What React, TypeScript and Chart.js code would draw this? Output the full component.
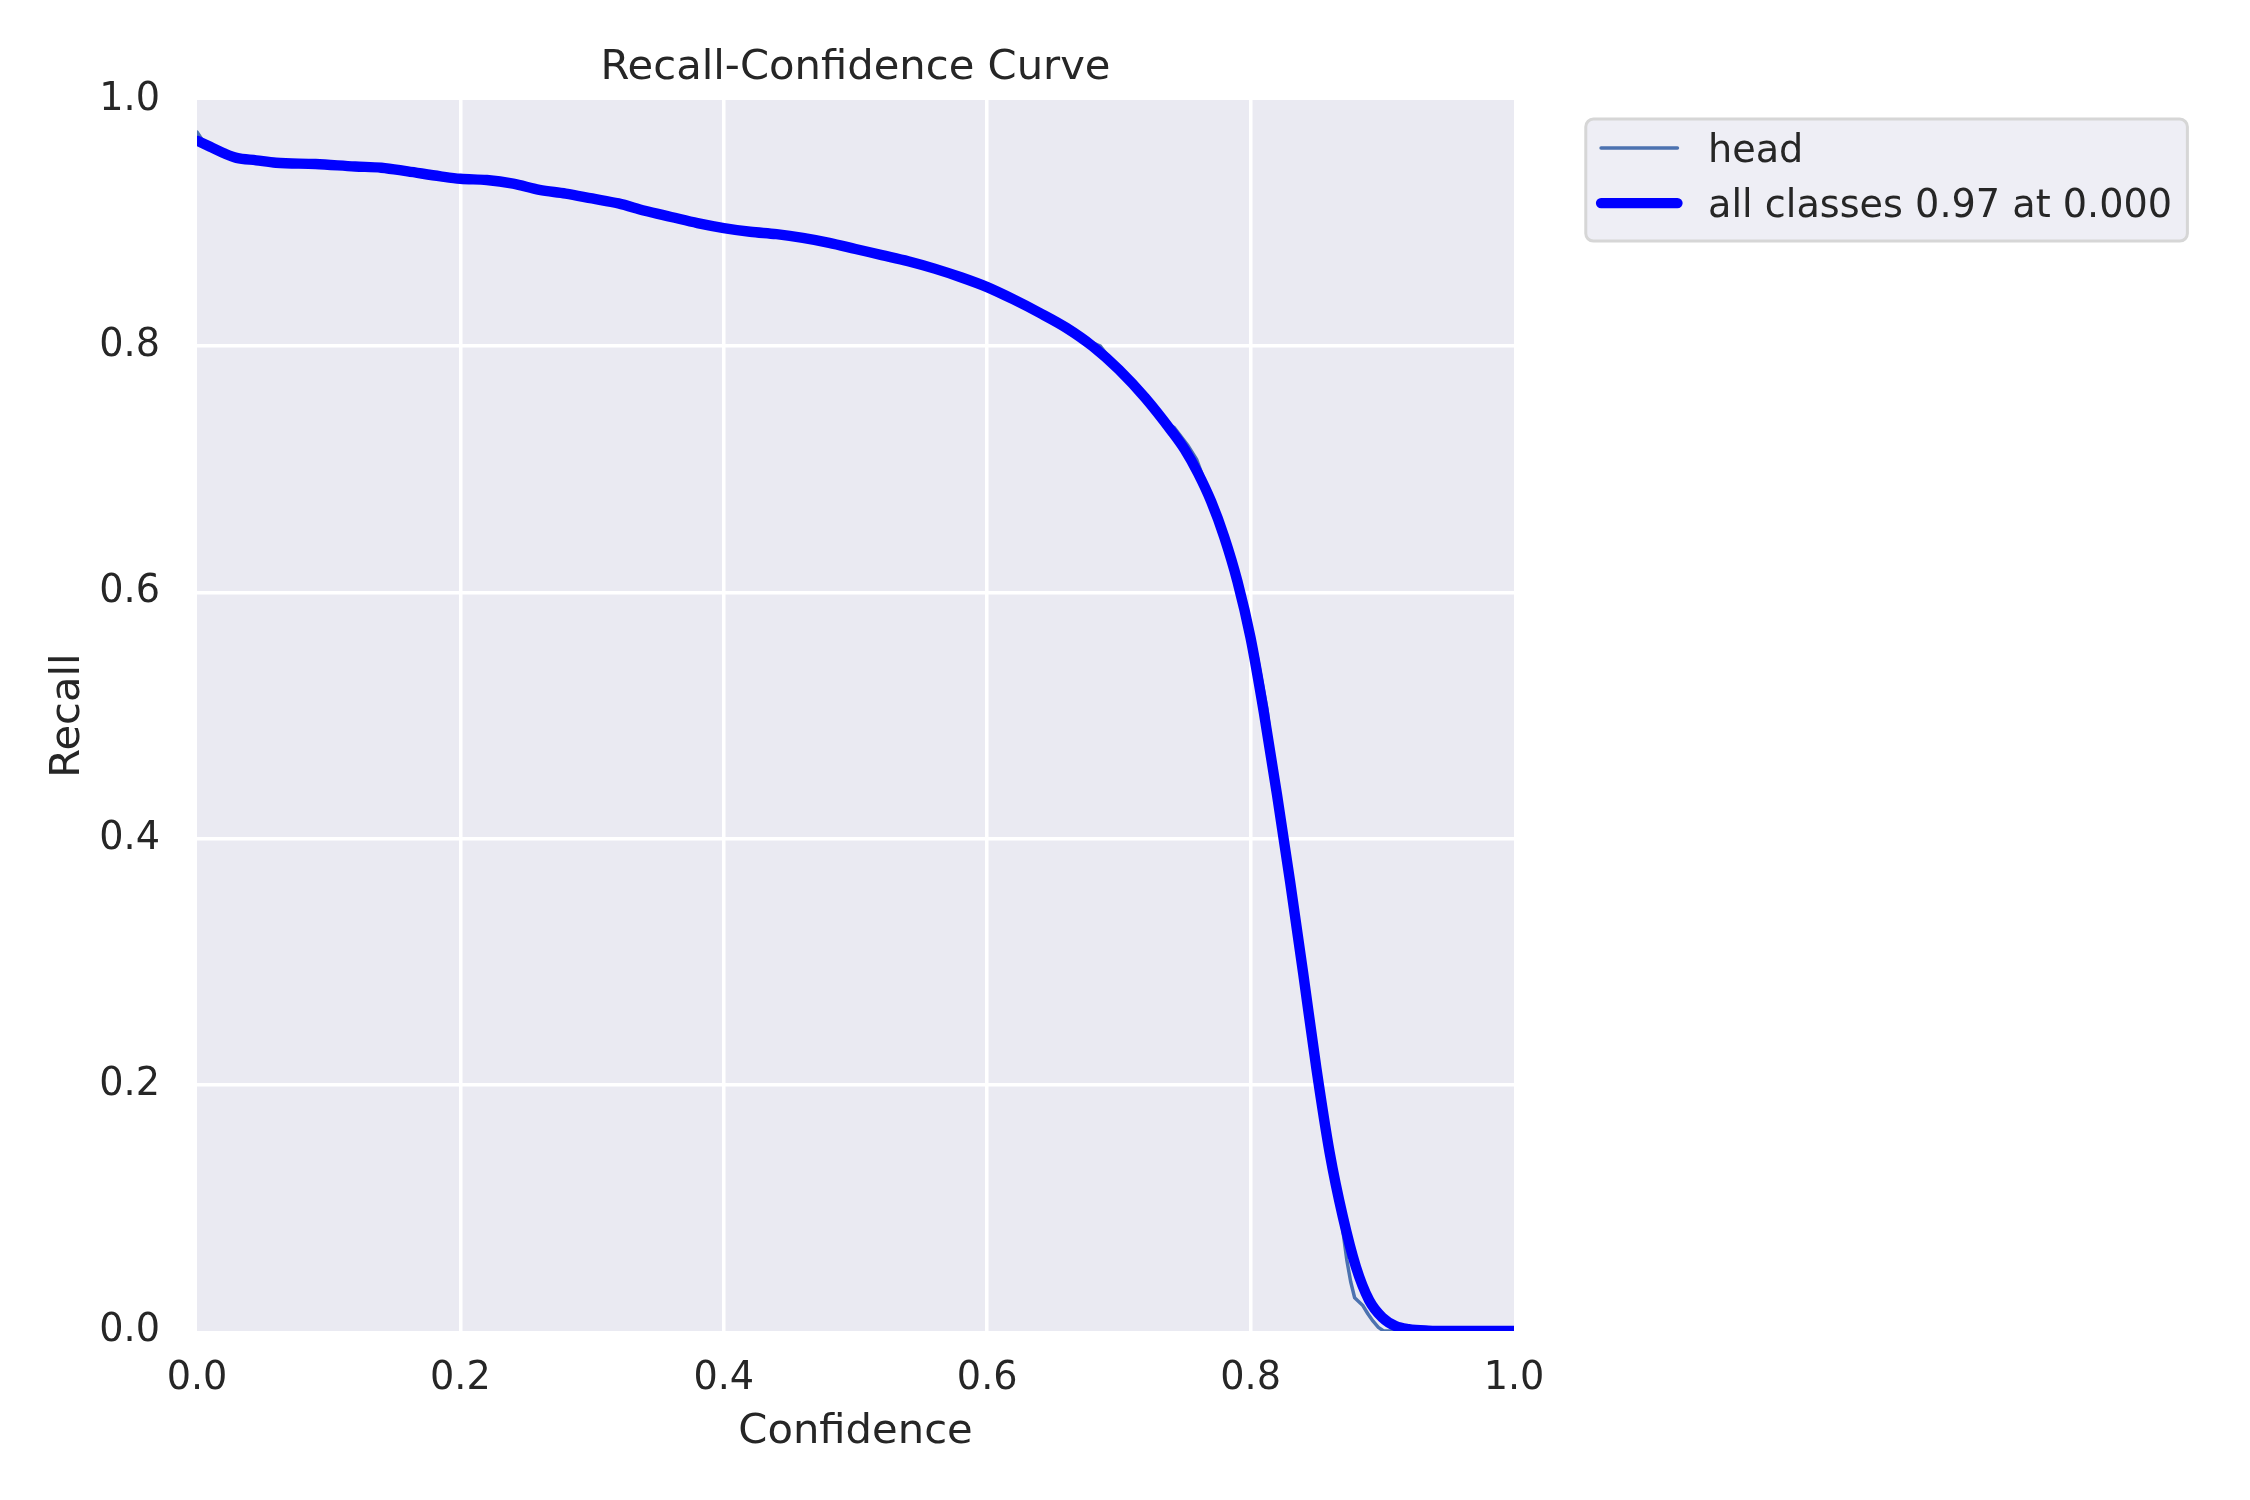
import React, { useEffect, useRef } from "react";
import { Chart, registerables } from "chart.js";

Chart.register(...registerables);

const TITLE = "Recall-Confidence Curve";
const X_LABEL = "Confidence";
const Y_LABEL = "Recall";
const LEGEND_LABELS = ["head", "all classes 0.97 at 0.000"];
const X_TICK_STEP = 0.2;

// "all classes" (smoothed) curve
const allConf = [
  0, 0.01, 0.02, 0.03, 0.045, 0.06, 0.09, 0.12, 0.14, 0.16, 0.185, 0.2, 0.22, 0.24, 0.26, 0.28,
  0.3, 0.32, 0.34, 0.36, 0.38, 0.4, 0.42, 0.44, 0.46, 0.48, 0.5, 0.52, 0.54, 0.56, 0.58, 0.6,
  0.62, 0.64, 0.66, 0.68, 0.7, 0.72, 0.74, 0.75, 0.76, 0.77, 0.78, 0.79, 0.8, 0.81, 0.82, 0.83,
  0.84, 0.85, 0.86, 0.87, 0.88, 0.89, 0.9, 0.91, 0.92, 0.935, 0.95, 1.0,
];
const allRecall = [
  0.967, 0.962, 0.957, 0.953, 0.951, 0.949, 0.948, 0.946, 0.945, 0.942, 0.938, 0.936, 0.935, 0.932, 0.927, 0.924,
  0.92, 0.916, 0.91, 0.905, 0.9, 0.896, 0.893, 0.891, 0.888, 0.884, 0.879, 0.874, 0.869, 0.863, 0.856, 0.848,
  0.838, 0.827, 0.815, 0.8, 0.781, 0.758, 0.731, 0.716, 0.697, 0.674, 0.645, 0.609, 0.563, 0.503, 0.436, 0.365,
  0.29, 0.213, 0.145, 0.093, 0.052, 0.025, 0.011, 0.004, 0.0015, 0.0003, 0, 0,
];

// "head" class curve
const headConf = [
  0, 0.005, 0.01, 0.02, 0.03, 0.045, 0.06, 0.09, 0.12, 0.14, 0.16, 0.185, 0.2, 0.22, 0.24, 0.26,
  0.28, 0.3, 0.32, 0.34, 0.36, 0.38, 0.4, 0.42, 0.44, 0.46, 0.48, 0.5, 0.52, 0.54, 0.56, 0.58,
  0.6, 0.62, 0.64, 0.65, 0.66, 0.675, 0.686, 0.7, 0.72, 0.735, 0.742, 0.752, 0.759, 0.77, 0.78, 0.79,
  0.798, 0.805, 0.8125, 0.82, 0.83, 0.84, 0.85, 0.86, 0.866, 0.869, 0.873, 0.876, 0.879, 0.882, 0.885,
  0.889, 0.893, 0.897, 0.901, 1.0,
];
const headRecall = [
  0.974, 0.966, 0.962, 0.957, 0.953, 0.951, 0.949, 0.948, 0.946, 0.945, 0.942, 0.938, 0.936, 0.935, 0.932, 0.927,
  0.924, 0.92, 0.916, 0.91, 0.905, 0.9, 0.896, 0.893, 0.891, 0.888, 0.884, 0.879, 0.874, 0.869, 0.863, 0.856,
  0.848, 0.838, 0.827, 0.824, 0.815, 0.805, 0.8, 0.781, 0.758, 0.738, 0.734, 0.72, 0.708, 0.676, 0.646, 0.611,
  0.578, 0.548, 0.505, 0.437, 0.365, 0.29, 0.213, 0.145, 0.108, 0.09, 0.058, 0.04, 0.027, 0.024, 0.021,
  0.014, 0.008, 0.003, 0, 0,
];

const FONT = "'DejaVu Sans', 'Liberation Sans', sans-serif";
const TEXT_COLOR = "#262626";
const HEAD_COLOR = "#4C72B0";
const ALL_COLOR = "#0000FF";
const AXES_BG = "#EAEAF2";

const TICK_SIZE = 38.2;
const LABEL_SIZE = 41.7;
const LEGEND_SIZE = 38.2;

export default function App() {
  const ref = useRef<HTMLCanvasElement | null>(null);

  useEffect(() => {
    const canvas = ref.current;
    if (!canvas) return;

    const bgPlugin = {
      id: "bgPlugin",
      beforeDraw(chart: any) {
        const { ctx, chartArea: a, width, height } = chart;
        ctx.save();
        ctx.fillStyle = "#ffffff";
        ctx.fillRect(0, 0, width, height);
        ctx.fillStyle = AXES_BG;
        ctx.fillRect(a.left, a.top, a.right - a.left, a.bottom - a.top);
        ctx.restore();
      },
    };

    const overlayPlugin = {
      id: "overlayPlugin",
      afterDraw(chart: any) {
        const { ctx, chartArea: a } = chart;
        ctx.save();
        // Title
        ctx.font = `${LABEL_SIZE}px ${FONT}`;
        ctx.fillStyle = TEXT_COLOR;
        ctx.textAlign = "center";
        ctx.textBaseline = "alphabetic";
        ctx.fillText(TITLE, (a.left + a.right) / 2, a.top - 21);

        // Legend (matplotlib-like, outside upper right)
        const fs = LEGEND_SIZE;
        const axW = a.right - a.left;
        const boxLeft = a.right + 0.04 * axW + 0.5 * fs;
        const boxTop = a.top + 0.5 * fs;
        const pad = 0.4 * fs;
        const handleLen = 2.0 * fs;
        const textGap = 0.8 * fs;
        ctx.font = `${fs}px ${FONT}`;
        const textW = Math.max(...LEGEND_LABELS.map((t) => ctx.measureText(t).width));
        const boxW = pad * 2 + handleLen + textGap + textW;
        const boxH = 122;
        ctx.beginPath();
        (ctx as any).roundRect(boxLeft, boxTop, boxW, boxH, 7.6);
        ctx.fillStyle = "#EEEEF5";
        ctx.fill();
        ctx.lineWidth = 3;
        ctx.strokeStyle = "#D6D6D6";
        ctx.stroke();

        const hx0 = boxLeft + pad;
        const hx1 = hx0 + handleLen;
        const tx = hx1 + textGap;
        const rows = [
          { color: HEAD_COLOR, width: 3.47, lineY: boxTop + 29, baseY: boxTop + 43 },
          { color: ALL_COLOR, width: 10.4, lineY: boxTop + 84, baseY: boxTop + 98 },
        ];
        rows.forEach((r, i) => {
          ctx.beginPath();
          ctx.lineCap = "round";
          ctx.strokeStyle = r.color;
          ctx.lineWidth = r.width;
          ctx.moveTo(hx0, r.lineY);
          ctx.lineTo(hx1, r.lineY);
          ctx.stroke();
          ctx.fillStyle = TEXT_COLOR;
          ctx.textAlign = "left";
          ctx.textBaseline = "alphabetic";
          ctx.fillText(LEGEND_LABELS[i], tx, r.baseY);
        });
        ctx.restore();
      },
    };

    const gridColor = (c: any) => {
      const v = c.tick ? c.tick.value : null;
      if (v !== null && (Math.abs(v) < 1e-9 || Math.abs(v - 1) < 1e-9)) return "rgba(0,0,0,0)";
      return "#ffffff";
    };

    const chart = new Chart(canvas, {
      type: "line",
      data: {
        datasets: [
          {
            label: LEGEND_LABELS[1],
            data: allConf.map((x, i) => ({ x, y: allRecall[i] })),
            borderColor: ALL_COLOR,
            backgroundColor: ALL_COLOR,
            borderWidth: 10.4,
            pointRadius: 0,
            cubicInterpolationMode: "monotone",
            borderCapStyle: "round",
            borderJoinStyle: "round",
            fill: false,
            order: 1,
          },
          {
            label: LEGEND_LABELS[0],
            data: headConf.map((x, i) => ({ x, y: headRecall[i] })),
            borderColor: HEAD_COLOR,
            backgroundColor: HEAD_COLOR,
            borderWidth: 3.47,
            pointRadius: 0,
            tension: 0,
            borderCapStyle: "round",
            borderJoinStyle: "round",
            fill: false,
            order: 2,
          },
        ],
      },
      options: {
        responsive: false,
        animation: false,
        devicePixelRatio: 1,
        layout: { padding: { top: 100, right: 736, left: 0, bottom: 0 } },
        plugins: {
          legend: { display: false },
          title: { display: false },
          tooltip: { enabled: false },
        },
        scales: {
          x: {
            type: "linear",
            min: 0,
            max: 1,
            afterFit: (s: any) => {
              s.height = 169;
            },
            ticks: {
              stepSize: X_TICK_STEP,
              padding: 25,
              color: TEXT_COLOR,
              font: { family: FONT, size: TICK_SIZE },
              maxRotation: 0,
              autoSkip: false,
              callback: (v: any) => Number(v).toFixed(1),
            },
            grid: { color: gridColor, lineWidth: 3.5, drawTicks: false },
            border: { display: false },
            title: {
              display: true,
              text: X_LABEL,
              color: TEXT_COLOR,
              font: { family: FONT, size: LABEL_SIZE },
              padding: { top: 0, bottom: 43 },
            },
          },
          y: {
            type: "linear",
            min: 0,
            max: 1,
            afterFit: (s: any) => {
              s.width = 197;
            },
            ticks: {
              stepSize: X_TICK_STEP,
              padding: 37,
              color: TEXT_COLOR,
              font: { family: FONT, size: TICK_SIZE },
              autoSkip: false,
              callback: (v: any) => Number(v).toFixed(1),
            },
            grid: { color: gridColor, lineWidth: 3.5, drawTicks: false },
            border: { display: false },
            title: {
              display: true,
              text: Y_LABEL,
              color: TEXT_COLOR,
              font: { family: FONT, size: LABEL_SIZE },
              padding: { top: 43, bottom: 0 },
            },
          },
        },
      } as any,
      plugins: [bgPlugin, overlayPlugin],
    });

    return () => {
      chart.destroy();
    };
  }, []);

  return (
    <div style={{ position: "fixed", left: 0, top: 0, width: 2250, height: 1500, background: "#ffffff" }}>
      <canvas ref={ref} width={2250} height={1500} style={{ width: 2250, height: 1500, display: "block" }} />
    </div>
  );
}
